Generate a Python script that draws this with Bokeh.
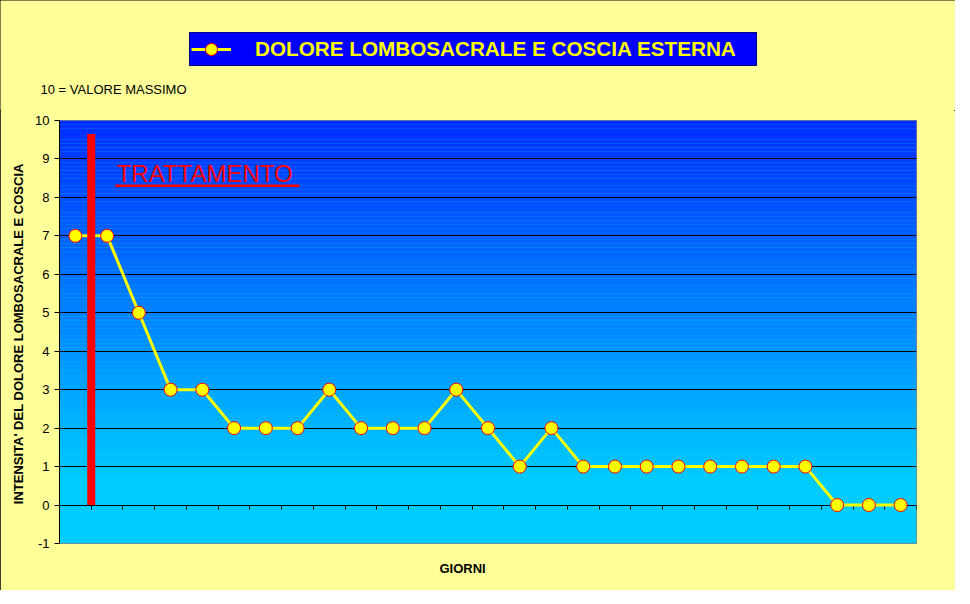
import numpy as np
from bokeh.plotting import figure
from bokeh.layouts import column
from bokeh.models import Range1d, FixedTicker, Legend, LegendItem, Label, Title
from bokeh.embed import file_html
from bokeh.resources import INLINE

# ---------------- data ----------------
days = list(range(1, 28))
pain = [7, 7, 5, 3, 3, 2, 2, 2, 3, 2, 2, 2, 3, 2, 1, 2, 1, 1, 1, 1, 1, 1, 1, 1, 0, 0, 0]
y_ticks = list(range(-1, 11))
treatment_after_day = 1
treatment_top = 9.65
series_name = "DOLORE LOMBOSACRALE E COSCIA ESTERNA"
y_title = "INTENSITA' DEL DOLORE  LOMBOSACRALE E COSCIA"
x_title = "GIORNI"
note_text = "10 = VALORE MASSIMO"
treatment_text = "TRATTAMENTO"

FONT = "Liberation Sans"
BG = "#FFFF99"
W = 955
TOP_H = 110
MAIN_H = 480
n_days = len(days)
x_pos = [d - 0.5 for d in days]
y_min, y_max = y_ticks[0], y_ticks[-1]
nan = float("nan")

# ---------------- header figure (legend box + note) ----------------
top = figure(width=W, height=TOP_H, x_range=Range1d(0, W), y_range=Range1d(0, TOP_H),
             output_backend="svg", toolbar_location=None,
             x_axis_type=None, y_axis_type=None,
             min_border=0, min_border_left=0, min_border_right=0,
             min_border_top=0, min_border_bottom=0,
             background_fill_color=BG, border_fill_color=BG, outline_line_color=None)
top.frame_align = False
top.xgrid.visible = False
top.ygrid.visible = False
# legend proxies (not drawn: NaN data), same style as the series
leg_line = top.line(x=[nan], y=[nan], line_color="#FFFF00", line_width=3)
leg_mark = top.scatter(x=[nan], y=[nan], size=13, fill_color="#FFFF00", line_color="#FF0000",
                       line_width=1)
legend = Legend(items=[LegendItem(label=series_name, renderers=[leg_line, leg_mark])],
                location=(189, 44), orientation="horizontal", padding=1, margin=0,
                glyph_width=40, glyph_height=30, label_height=30, label_standoff=24,
                label_width=500, background_fill_color="#0000FF", background_fill_alpha=1,
                border_line_color="black", border_line_width=1,
                label_text_color="#FFFF00", label_text_font=FONT,
                label_text_font_style="bold", label_text_font_size="20.7px")
top.add_layout(legend, "center")
top.add_layout(Label(x=40, y=TOP_H - 89, text=note_text, text_color="black",
                     text_font=FONT, text_font_size="13px", text_baseline="middle"))

# ---------------- main chart ----------------
p = figure(width=W, height=MAIN_H,
           x_range=Range1d(0, n_days), y_range=Range1d(y_min, y_max),
           output_backend="svg", toolbar_location=None,
           min_border_left=59, min_border_right=39,
           min_border_top=10, min_border_bottom=47,
           background_fill_color="#00CCFF", border_fill_color=BG,
           outline_line_color="#808080", outline_line_width=1)
p.frame_align = False

# gradient background bands
step = 0.1
bottoms = np.arange(y_min, y_max, step)
tops = bottoms + step
cols = []
for b in bottoms:
    v = b + step / 2
    g = int(min(204, 45 + (y_max - v) * 17))
    cols.append("#%02x%02x%02x" % (0, g, 255))
p.quad(left=0, right=n_days, bottom=bottoms, top=tops, fill_color=cols,
       line_color=None, level="image")

p.xgrid.visible = False
p.ygrid.ticker = FixedTicker(ticks=[t for t in y_ticks if 0 <= t < y_max])
p.ygrid.grid_line_color = "black"
p.ygrid.grid_line_width = 1

p.yaxis.ticker = FixedTicker(ticks=y_ticks, minor_ticks=[])
p.yaxis.major_label_overrides = {t: str(t) for t in y_ticks}
p.yaxis.axis_label = y_title
p.yaxis.axis_label_text_font = FONT
p.yaxis.axis_label_text_font_style = "bold"
p.yaxis.axis_label_text_font_size = "13px"
p.yaxis.axis_label_text_color = "black"
p.yaxis.axis_label_standoff = 6
p.yaxis.major_label_text_font = FONT
p.yaxis.major_label_text_font_size = "13px"
p.yaxis.major_label_text_color = "black"
p.yaxis.major_label_standoff = 5
p.yaxis.major_tick_out = 5
p.yaxis.major_tick_in = 0
p.yaxis.minor_tick_out = 0
p.yaxis.axis_line_color = "black"
p.yaxis.major_tick_line_color = "black"

p.xaxis.fixed_location = 0
p.xaxis.ticker = FixedTicker(ticks=list(range(0, n_days + 1)), minor_ticks=[])
p.xaxis.major_label_overrides = {i: "" for i in range(0, n_days + 1)}
p.xaxis.major_tick_out = 4
p.xaxis.major_tick_in = 0
p.xaxis.minor_tick_out = 0
p.xaxis.axis_line_color = "black"
p.xaxis.major_tick_line_color = "black"

line_r = p.line(x_pos, pain, line_color="#FFFF00", line_width=3, level="overlay")
scat_r = p.scatter(x_pos, pain, size=13, fill_color="#FFFF00", line_color="#FF0000",
                   line_width=1, level="overlay")

p.segment(x0=[treatment_after_day], y0=[0], x1=[treatment_after_day], y1=[treatment_top],
          line_color="#FF0000", line_width=8, line_cap="butt", level="overlay")

p.add_layout(Label(x=1.80, y=8.61, text=treatment_text, text_color="#FF0000",
                   text_font=FONT, text_font_size="24px", text_baseline="middle"))
p.segment(x0=[1.76], y0=[8.30], x1=[7.56], y1=[8.30], line_color="#FF0000",
          line_width=2.5, line_cap="butt")

p.add_layout(Title(text=x_title, align="left", offset=380, standoff=30,
                   text_font=FONT, text_font_size="13px", text_font_style="bold",
                   text_color="black"), "below")

layout = column(top, p, spacing=0,
                styles={"outline": "1px solid #000000", "outline-offset": "-1px",
                        "background-color": BG})

open("out.html", "w").write(file_html(layout, INLINE))
